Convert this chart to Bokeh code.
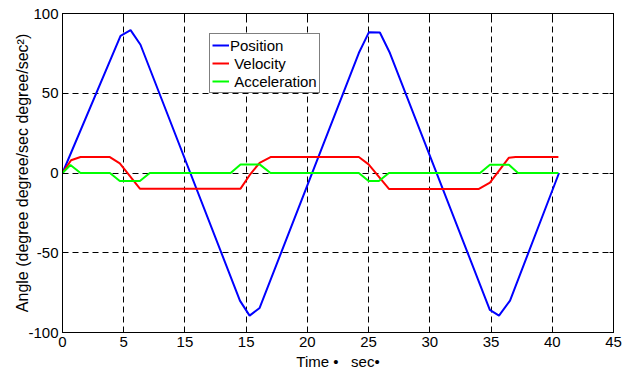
from bokeh.plotting import figure
from bokeh.models import Range1d, FixedTicker, LinearAxis, Legend, LegendItem
from bokeh.embed import file_html
from bokeh.resources import INLINE

# ---- data ----
pos_t = [0, 4.74, 5.56, 6.37, 14.49, 15.28, 16.1, 24.2, 25.03, 25.92, 26.74, 34.9, 35.65, 36.55, 40.55]
pos_v = [0, 86, 89.6, 80.4, -80, -89.4, -84.6, 75.2, 88.3, 88.1, 75.2, -85.8, -89.4, -80, 0]

vel_t = [0, 0.7, 1.47, 3.87, 4.68, 6.32, 14.54, 15.36, 16.1, 16.99, 24.2, 25.0, 26.66, 34.01, 34.91, 36.46, 37.0, 40.5]
vel_v = [0, 8, 10, 10, 6, -9.8, -9.8, -0.5, 6.4, 10, 10, 5.4, -10, -10, -6, 9.6, 10, 10]

acc_t = [0, 0.65, 1.47, 3.87, 4.68, 6.32, 7.13, 13.73, 14.54, 16.1, 16.99, 24.2, 25.0, 25.84, 26.66, 34.1, 34.91, 36.46, 37.2, 40.5]
acc_v = [0, 5, 0, 0, -5, -5, 0, 0, 5.4, 5.4, 0, 0, -5, -5, 0, 0, 5.2, 5.2, 0, 0]

x_ticks = [0, 5, 10, 15, 20, 25, 30, 35, 40, 45]
x_tick_labels = ["0", "5", "15", "15", "20", "25", "30", "35", "40", "45"]
y_ticks = [-100, -50, 0, 50, 100]
y_tick_labels = ["-100", "-50", "0", "50", "100"]

series_names = ["Position", "\u00a0Velocity", "\u00a0Acceleration"]
x_label = "Time \u2022\u00a0\u00a0\u00a0sec\u2022"
y_label = "Angle (degree degree/sec degree/sec\u00b2)"

FONT = "Liberation Sans"
FS = "15px"

p = figure(width=635, height=375, output_backend="svg", toolbar_location=None,
           x_range=Range1d(0, 45), y_range=Range1d(-100, 100),
           min_border_left=62, min_border_right=22, min_border_top=13, min_border_bottom=43)
p.background_fill_color = "white"
p.border_fill_color = "white"
p.outline_line_color = "black"
p.outline_line_width = 1

xt = FixedTicker(ticks=x_ticks)
yt = FixedTicker(ticks=y_ticks)

def style_axis(ax, ticker, overrides, show_labels=True):
    ax.ticker = ticker
    ax.major_tick_in = 4
    ax.major_tick_out = 0
    ax.minor_tick_line_color = None
    ax.axis_line_color = "black"
    ax.major_tick_line_color = "black"
    if show_labels:
        ax.major_label_overrides = overrides
        ax.major_label_text_font = FONT
        ax.major_label_text_font_size = FS
        ax.major_label_text_color = "black"
        ax.major_label_standoff = 4
    else:
        ax.major_label_text_font_size = "1px"
        ax.major_label_text_color = None
        ax.major_label_standoff = 0

style_axis(p.xaxis[0], xt, dict(zip(x_ticks, x_tick_labels)))
style_axis(p.yaxis[0], yt, dict(zip(y_ticks, y_tick_labels)))
p.xaxis.axis_label = x_label
p.yaxis.axis_label = y_label
for ax in (p.xaxis[0], p.yaxis[0]):
    ax.axis_label_text_font = FONT
    ax.axis_label_text_font_style = "normal"
    ax.axis_label_text_color = "black"
p.xaxis[0].axis_label_text_font_size = FS
p.yaxis[0].axis_label_text_font_size = "16px"
p.xaxis[0].axis_label_standoff = 3
p.yaxis[0].axis_label_standoff = -6

top = LinearAxis()
style_axis(top, xt, {}, show_labels=False)
p.add_layout(top, "above")
right = LinearAxis()
style_axis(right, yt, {}, show_labels=False)
p.add_layout(right, "right")

p.xgrid.ticker = xt
p.ygrid.ticker = yt
for g in (p.xgrid[0], p.ygrid[0]):
    g.grid_line_color = "black"
    g.grid_line_dash = "6 4"
    g.grid_line_width = 1

r1 = p.line(pos_t, pos_v, line_color="#0000ff", line_width=2)
r2 = p.line(vel_t, vel_v, line_color="#ff0000", line_width=2)
r3 = p.line(acc_t, acc_v, line_color="#00ff00", line_width=2)

legend = Legend(items=[LegendItem(label=series_names[0], renderers=[r1]),
                       LegendItem(label=series_names[1], renderers=[r2]),
                       LegendItem(label=series_names[2], renderers=[r3])],
                location=(147, 239))
legend.label_text_font = FONT
legend.label_text_font_size = FS
legend.label_text_color = "black"
legend.border_line_color = "black"
legend.border_line_width = 1
legend.background_fill_color = "white"
legend.background_fill_alpha = 1
legend.glyph_width = 17
legend.glyph_height = 18
legend.label_height = 18
legend.label_standoff = 1
legend.spacing = 0
legend.padding = 2
legend.margin = 0
p.add_layout(legend, "center")

open("out.html", "w").write(file_html(p, INLINE))
